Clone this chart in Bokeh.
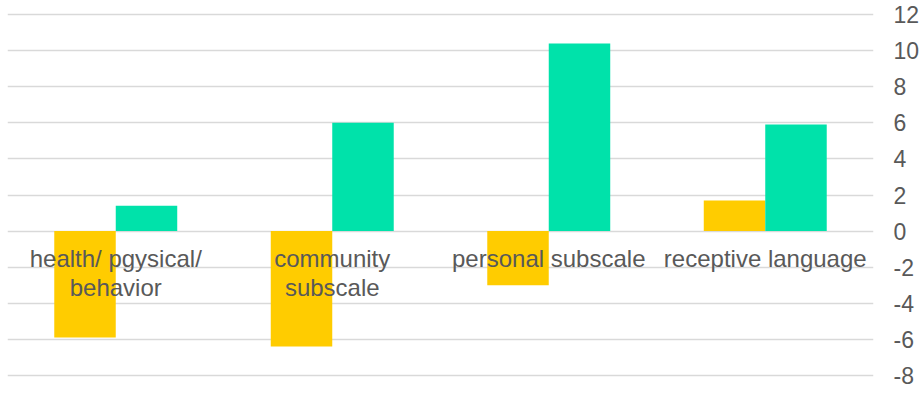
from bokeh.plotting import figure
from bokeh.models import Range1d, FactorRange, LinearAxis, FixedTicker, ColumnDataSource
from bokeh.transform import dodge
from bokeh.core.properties import value
from bokeh.embed import file_html
from bokeh.resources import INLINE

categories = ["health/ pgysical/\nbehavior", "community\nsubscale", "personal subscale", "receptive language"]
series_a = [-5.9, -6.4, -3.0, 1.7]
series_b = [1.4, 6.0, 10.4, 5.9]
y_ticks = [-8, -6, -4, -2, 0, 2, 4, 6, 8, 10, 12]

color_a = "#FFCC00"
color_b = "#00E2AA"
text_color = "#595959"
font = "Liberation Sans"

src = ColumnDataSource(dict(cat=categories, a=series_a, b=series_b, zero=[0] * len(categories)))

p = figure(width=924, height=409, output_backend="svg", toolbar_location=None,
           x_range=FactorRange(*categories, range_padding=0),
           y_range=Range1d(-8.5, 12.5),
           min_border_left=7, min_border_right=51, min_border_top=5, min_border_bottom=25,
           outline_line_color=None, background_fill_color="white", border_fill_color="white")

p.xaxis.visible = False
p.yaxis.visible = False

yax = LinearAxis(ticker=FixedTicker(ticks=y_ticks))
yax.major_label_overrides = {t: str(t) for t in y_ticks}
yax.axis_line_color = None
yax.major_tick_line_color = None
yax.minor_tick_line_color = None
yax.major_tick_in = 0
yax.major_tick_out = 0
yax.major_label_standoff = 20
yax.major_label_text_font = font
yax.major_label_text_font_size = "23px"
yax.major_label_text_color = text_color
p.add_layout(yax, "right")

p.xgrid.visible = False
p.ygrid.ticker = FixedTicker(ticks=y_ticks)
p.ygrid.grid_line_color = "#D9D9D9"
p.ygrid.grid_line_width = 1.5

w = 0.284
p.vbar(x=dodge("cat", -w / 2, range=p.x_range), top="a", bottom=0, width=w, source=src,
       fill_color=color_a, line_color=None)
p.vbar(x=dodge("cat", w / 2, range=p.x_range), top="b", bottom=0, width=w, source=src,
       fill_color=color_b, line_color=None)

p.text(x="cat", y="zero", text="cat", source=src, y_offset=14,
       text_align="center", text_baseline="top", text_font=value(font),
       text_font_size="24px", text_color=text_color, text_line_height=1.08)

open("out.html", "w").write(file_html(p, INLINE))
